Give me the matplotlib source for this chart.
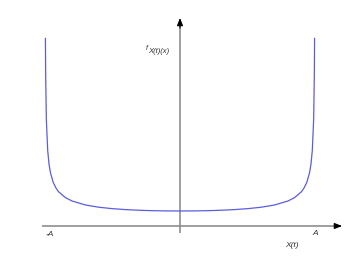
import matplotlib.pyplot as plt

# arcsine-shaped density, x in units of A, y relative to the minimum value
x_vals = [-0.9968, -0.995, -0.99, -0.98, -0.97, -0.96, -0.94, -0.92, -0.9, -0.85,
          -0.8, -0.7, -0.6, -0.5, -0.4, -0.3, -0.2, -0.1, 0.0,
          0.1, 0.2, 0.3, 0.4, 0.5, 0.6, 0.7, 0.8, 0.85, 0.9,
          0.92, 0.94, 0.96, 0.97, 0.98, 0.99, 0.995, 0.9968]
y_vals = [12.5, 10.01, 7.09, 5.03, 4.11, 3.57, 2.93, 2.55, 2.29, 1.90,
          1.667, 1.40, 1.25, 1.155, 1.091, 1.048, 1.021, 1.005, 1.0,
          1.005, 1.021, 1.048, 1.091, 1.155, 1.25, 1.40, 1.667, 1.90, 2.29,
          2.55, 2.93, 3.57, 4.11, 5.03, 7.09, 10.01, 12.5]

tick_labels = ["-A", "A"]
x_label = "X(t)"

fig = plt.figure(figsize=(3.47, 2.60), dpi=100)
ax = fig.add_axes([0, 0, 1, 1])
ax.set_xlim(-1.3333, 1.2370)
ax.set_ylim(-2.267, 15.067)
ax.axis("off")

axis_col = "#858585"
# horizontal axis
ax.plot([-1.022, 1.19], [0, 0], color=axis_col, lw=1.1, solid_capstyle="butt")
ax.annotate("", xy=(1.2, 0), xytext=(1.15, 0),
            arrowprops=dict(arrowstyle="-|>,head_length=0.45,head_width=0.18",
                            color="black", lw=0.8, shrinkA=0, shrinkB=0))
# vertical axis
ax.plot([0, 0], [-0.467, 13.7], color=axis_col, lw=1.1, solid_capstyle="butt")
ax.annotate("", xy=(0, 13.87), xytext=(0, 13.2),
            arrowprops=dict(arrowstyle="-|>,head_length=0.45,head_width=0.18",
                            color="black", lw=0.8, shrinkA=0, shrinkB=0))

ax.plot(x_vals, y_vals, color="#5c5ce0", lw=0.9)

font = dict(family="Liberation Sans", style="italic", color="#333333")
ax.text(-0.963, -0.6, tick_labels[0], fontsize=6, ha="center", va="center", **font)
ax.text(1.0, -0.53, tick_labels[1], fontsize=6, ha="center", va="center", **font)
ax.text(0.83, -1.27, x_label, fontsize=6, ha="center", va="center", **font)
ax.text(-0.245, 11.85, "f", fontsize=5, ha="center", va="center", **font)
ax.text(-0.16, 11.62, "X(t)(x)", fontsize=5.5, ha="center", va="center", **font)

fig.savefig("out.png", dpi=100)
